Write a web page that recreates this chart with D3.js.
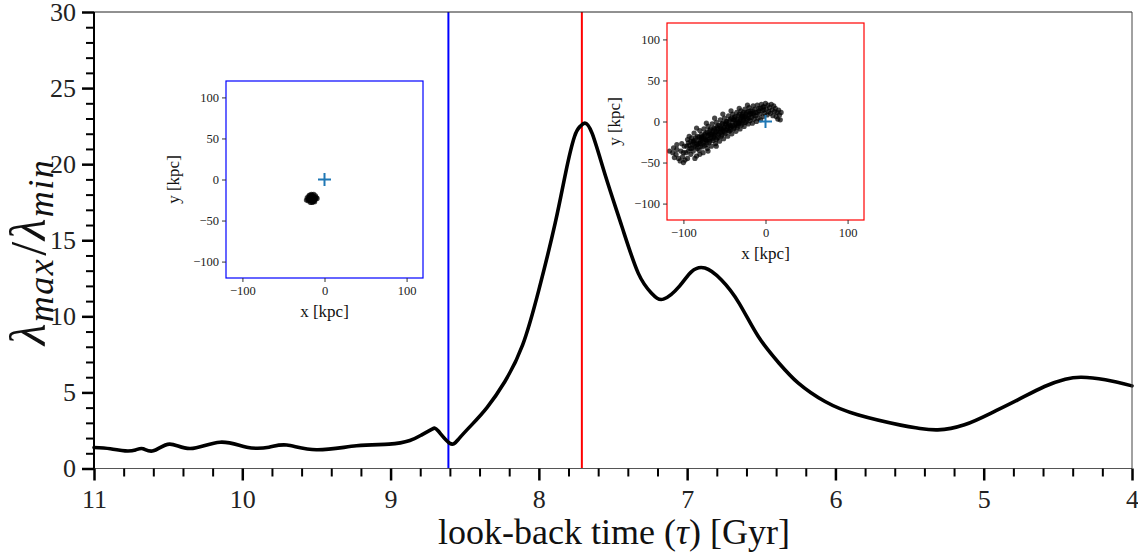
<!DOCTYPE html>
<html><head><meta charset="utf-8">
<script src="https://cdn.jsdelivr.net/npm/d3@7"></script>
<style>
html,body{margin:0;padding:0;background:#fff;}
svg{display:block;font-family:"Liberation Serif","DejaVu Serif",serif;}
</style></head>
<body><svg id="c" width="1138" height="552"></svg>
<script>
// ---- data ----
const tau = [11.00,10.89,10.79,10.72,10.67,10.60,10.49,10.35,10.15,9.97,9.82,9.70,9.50,9.23,9.01,8.87,8.79,8.72,8.68,8.60,8.54,8.45,8.35,8.23,8.11,8.00,7.89,7.82,7.76,7.72,7.69,7.64,7.55,7.44,7.33,7.24,7.16,7.05,6.97,6.88,6.77,6.65,6.52,6.38,6.25,6.07,5.85,5.56,5.44,5.31,5.13,4.95,4.77,4.59,4.45,4.34,4.18,4.00];
const ratio = [1.38,1.30,1.16,1.22,1.30,1.16,1.60,1.31,1.73,1.40,1.40,1.54,1.23,1.49,1.60,1.84,2.21,2.59,2.48,1.65,1.95,2.90,4.00,5.70,8.10,11.74,16.12,19.40,21.80,22.50,22.70,22.00,19.20,15.90,12.84,11.52,11.13,12.00,12.94,13.17,12.40,10.87,8.67,6.92,5.61,4.40,3.53,2.85,2.65,2.54,2.87,3.64,4.51,5.39,5.87,6.00,5.83,5.43];
const markTimes = [8.61, 7.71];
const markColors = ["#0000ff", "#ff0000"];
const xTicksMajor = [11,10,9,8,7,6,5,4];
const yTicksMajor = [0,5,10,15,20,25,30];
const insetTicks = [-100,-50,0,50,100];
const insetXTicks = [-100,0,100];
// particle positions (kpc) at the blue-marked time
const blueX = [-15,-13,-17,-19,-11,-14,-16,-18,-12,-20,-15,-13,-17,-10,-21,-14,-16,-12,-18,-15,-19,-11,-13,-17,-15,-14,-16,-20,-12,-18,-15,-13,-22,-9];
const blueY = [-23,-21,-25,-22,-24,-26,-20,-19,-27,-24,-28,-18,-28,-22,-22,-24,-23,-25,-26,-19,-20,-20,-23,-21,-25,-27,-18,-26,-22,-24,-21,-26,-25,-23];
// particle positions (kpc) at the red-marked time
const redX = [-117,-112,-109,-106,-104,-101,-103,-99,-97,-95,-94,-92,-91,-90,-89,-88,-87,-86,-85,-84,-83,-82,-81,-80,-80,-79,-78,-77,-76,-75,-75,-74,-73,-72,-71,-70,-70,-69,-68,-67,-66,-65,-65,-64,-63,-62,-61,-60,-60,-59,-58,-57,-56,-55,-55,-54,-53,-52,-51,-50,-50,-49,-48,-47,-46,-45,-45,-44,-43,-42,-41,-40,-40,-39,-38,-37,-36,-35,-35,-34,-33,-32,-31,-30,-30,-29,-28,-27,-26,-25,-25,-24,-23,-22,-21,-20,-20,-19,-18,-17,-16,-15,-15,-14,-13,-12,-11,-10,-10,-9,-8,-7,-6,-5,-4,-3,-2,-1,0,1,2,3,4,5,6,7,8,9,10,11,12,13,14,15,16,17,18,19,-95,-100,-108,-113,-98,-86,-80,-70,-60,-102,-93,-84,-72,-62,-52,-42,-32,-22,-88,-78,-68,-58,-48,-38,-28,-18,-83,-73,-63,-53,-43,-33,
  -96,-94,-93,-91,-90,-88,-87,-85,-84,-83,-81,-80,-79,-78,-77,-76,-75,-74,-73,-72,-71,-70,-69,-68,-67,-66,-65,-64,-63,-62,-61,-60,-59,-58,-57,-56,-55,-54,-53,-52,-51,-50,-49,-48,-47,-46,-45,-44,-43,-42,-41,-40,-39,-38,-37,-36,-35,-34,-33,-32,-31,-30,-29,-28,-27,-26,-25,-24,-23,-21,-20,-18,-16,-14,-12,-8,-6,-2,-108,-111,-100,-3];
const redY = [-36,-32,-40,-45,-48,-43,-36,-30,-38,-45,-26,-33,-40,-20,-28,-36,-14,-23,-31,-42,-18,-27,-35,-11,-22,-30,-16,-25,-38,-9,-20,-29,-14,-23,-33,-6,-17,-26,-11,-20,-30,-3,-14,-23,-8,-17,-27,-1,-12,-20,-5,-15,-24,2,-9,-18,-3,-12,-21,4,-7,-15,0,-9,-18,7,-4,-12,3,-7,-15,9,-1,-9,5,-4,-12,11,1,-7,7,-2,-9,13,4,-4,9,1,-6,15,6,-1,11,3,-3,17,8,1,13,5,-2,19,10,3,15,7,0,20,11,4,16,9,2,21,13,6,18,10,22,15,8,20,12,17,10,21,14,7,19,12,16,6,11,3,14,8,2,11,-22,-38,-34,-38,-47,-45,-40,-36,-30,-27,-18,-8,-2,4,9,13,16,20,-24,-19,-15,-9,-3,2,6,10,-28,-22,-16,-10,-5,-1,
  -30,-36,-29,-24,-33,-25,-30,-20,-26,-33,-19,-27,-24,-21,-31,-18,-26,-16,-22,-28,-13,-22,-17,-24,-9,-16,-21,-11,-19,-9,-14,-22,-7,-13,-19,-5,-13,-8,-16,-2,-8,-13,-3,-10,0,-6,-11,1,-5,-10,4,-5,2,-7,6,-2,-5,3,-3,9,1,-2,7,3,11,5,-1,9,5,12,4,9,13,8,11,13,16,14,-28,-44,-50,18];

const svg = d3.select("#c");
const L = 94, R = 1132, T = 12, B = 468.5;
const x = d3.scaleLinear().domain([11,4]).range([L,R]);
const y = d3.scaleLinear().domain([0,30]).range([B,T]);

// vertical markers
markTimes.forEach((t,i)=>{
  svg.append("line").attr("x1",x(t)).attr("x2",x(t)).attr("y1",T).attr("y2",B)
    .attr("stroke",markColors[i]).attr("stroke-width",2);
});

// curve
const line = d3.line().x((d,i)=>x(tau[i])).y((d,i)=>y(ratio[i])).curve(d3.curveNatural);
svg.append("path").attr("d",line(tau)).attr("fill","none").attr("stroke","#000").attr("stroke-width",3.6)
  .attr("stroke-linejoin","round").attr("stroke-linecap","round");

// frame
svg.append("line").attr("x1",L).attr("x2",R).attr("y1",T).attr("y2",T).attr("stroke","#222").attr("stroke-width",1);
svg.append("line").attr("x1",R).attr("x2",R).attr("y1",T).attr("y2",B).attr("stroke","#444").attr("stroke-width",1);
svg.append("line").attr("x1",L).attr("x2",R).attr("y1",B).attr("y2",B).attr("stroke","#555").attr("stroke-width",1.2);
svg.append("line").attr("x1",L).attr("x2",L).attr("y1",T).attr("y2",B).attr("stroke","#000").attr("stroke-width",2);

// x axis
const xMinor = d3.range(0,36).map(i=>11 - i*0.2).filter(v=>Math.abs(v-Math.round(v))>1e-6);
const xAx = svg.append("g").attr("transform",`translate(0,${B})`);
xAx.call(d3.axisBottom(x).tickValues(xMinor).tickSize(8).tickFormat(""));
xAx.call(g=>g.select(".domain").remove());
xAx.selectAll(".tick line").attr("stroke","#000").attr("stroke-width",2);
const xAxM = svg.append("g").attr("transform",`translate(0,${B})`);
xAxM.call(d3.axisBottom(x).tickValues(xTicksMajor).tickSize(12).tickPadding(9).tickFormat(d3.format("d")));
xAxM.select(".domain").remove();
xAxM.selectAll(".tick line").attr("stroke","#000").attr("stroke-width",2.5);
xAxM.selectAll(".tick text").attr("font-family","Liberation Serif, serif").attr("font-size",26).attr("fill","#222");

// y axis
const yMinor = d3.range(0,31).filter(v=>v%5!==0);
const yAx = svg.append("g").attr("transform",`translate(${L},0)`);
yAx.call(d3.axisLeft(y).tickValues(yMinor).tickSize(8).tickFormat(""));
yAx.select(".domain").remove();
yAx.selectAll(".tick line").attr("stroke","#000").attr("stroke-width",2);
const yAxM = svg.append("g").attr("transform",`translate(${L},0)`);
yAxM.call(d3.axisLeft(y).tickValues(yTicksMajor).tickSize(12).tickPadding(6).tickFormat(d3.format("d")));
yAxM.select(".domain").remove();
yAxM.selectAll(".tick line").attr("stroke","#000").attr("stroke-width",2.5);
yAxM.selectAll(".tick text").attr("font-family","Liberation Serif, serif").attr("font-size",26).attr("fill","#222");

// axis titles
svg.append("text").attr("x",614).attr("y",544).attr("text-anchor","middle")
  .attr("font-size",36).attr("fill","#111")
  .html('look-back time (<tspan font-style="italic">τ</tspan>) [Gyr]');
const yt = svg.append("text").attr("transform","translate(45,252) rotate(-90)").attr("text-anchor","middle")
  .attr("font-size",50).attr("fill","#111").attr("font-style","italic").attr("letter-spacing",1.5);
yt.append("tspan").text("λ");
yt.append("tspan").attr("font-size",36).attr("dy",8).text("max");
yt.append("tspan").attr("dy",-8).attr("font-style","normal").attr("dx",2).text("/");
yt.append("tspan").text("λ");
yt.append("tspan").attr("font-size",36).attr("dy",8).text("min");

// insets
function inset(left, top, size, color, px, py){
  const g = svg.append("g");
  const sx = d3.scaleLinear().domain([-120,120]).range([left,left+size]);
  const sy = d3.scaleLinear().domain([-120,120]).range([top+size,top]);
  g.append("rect").attr("x",left).attr("y",top).attr("width",size).attr("height",size).attr("fill","#fff");
  g.append("g").selectAll("circle").data(px).join("circle")
    .attr("cx",(d)=>sx(d)).attr("cy",(d,i)=>sy(py[i])).attr("r",2.6)
    .attr("fill","#000").attr("fill-opacity",0.72);
  const m = 6.5;
  g.append("line").attr("x1",sx(0)-m).attr("x2",sx(0)+m).attr("y1",sy(0)).attr("y2",sy(0)).attr("stroke","#1f77b4").attr("stroke-width",2);
  g.append("line").attr("x1",sx(0)).attr("x2",sx(0)).attr("y1",sy(0)-m).attr("y2",sy(0)+m).attr("stroke","#1f77b4").attr("stroke-width",2);
  g.append("rect").attr("x",left).attr("y",top).attr("width",size).attr("height",size).attr("fill","none").attr("stroke",color).attr("stroke-width",1.2);
  const ax = g.append("g").attr("transform",`translate(0,${top+size})`)
    .call(d3.axisBottom(sx).tickValues(insetXTicks).tickSize(4).tickPadding(4).tickFormat(d=>d<0?"\u2212"+(-d):d));
  ax.select(".domain").remove();
  const ay = g.append("g").attr("transform",`translate(${left},0)`)
    .call(d3.axisLeft(sy).tickValues(insetTicks).tickSize(4).tickPadding(3).tickFormat(d=>d<0?"\u2212"+(-d):d));
  ay.select(".domain").remove();
  g.selectAll(".tick line").attr("stroke","#333").attr("stroke-width",1);
  g.selectAll(".tick text").attr("font-family","Liberation Serif, serif").attr("font-size",12.5).attr("fill","#222");
  g.append("text").attr("x",left+size/2).attr("y",top+size+39).attr("text-anchor","middle").attr("font-size",17).attr("fill","#111").text("x [kpc]");
  g.append("text").attr("transform",`translate(${left-47},${top+size/2}) rotate(-90)`).attr("text-anchor","middle").attr("font-size",17).attr("fill","#111").text("y [kpc]");
}
inset(226, 81, 197, "#0000ff", blueX, blueY);
inset(667, 23, 197, "#ff0000", redX, redY);
</script></body></html>
